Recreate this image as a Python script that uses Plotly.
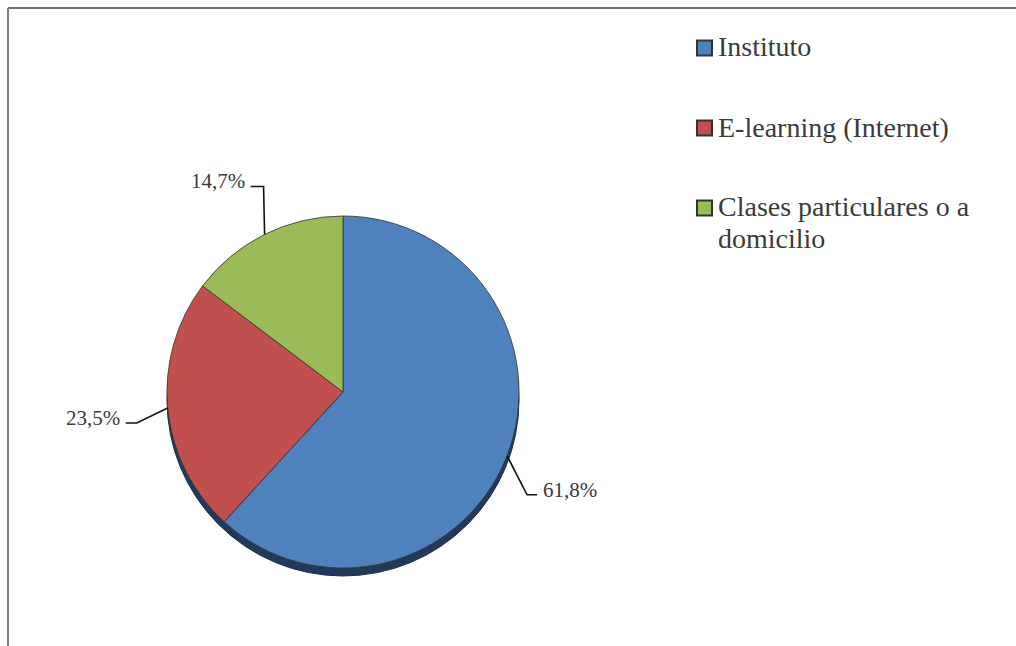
import math
import textwrap
import plotly.graph_objects as go

# ---- data ----
categories = ["Instituto", "E-learning (Internet)", "Clases particulares o a domicilio"]
shares = [61.8, 23.5, 14.7]
value_labels = ["61,8%", "23,5%", "14,7%"]
colors = ["#4F81BD", "#C0504D", "#9BBB59"]

# ---- canvas / layout helpers ----
W, H = 1016, 646
CX, CY, R = 343, 392, 176          # pie centre and radius, in pixels
FONT = "Liberation Serif, Times New Roman, serif"


def px(x):
    return x / W


def py(y):
    return 1 - y / H


fig = go.Figure()

fig.add_trace(go.Pie(
    labels=categories,
    values=shares,
    sort=False,
    direction="clockwise",
    rotation=0,
    marker=dict(colors=colors, line=dict(color="rgba(55,55,55,0.85)", width=1)),
    textinfo="none",
    hoverinfo="label+percent",
    showlegend=False,
    domain=dict(x=[px(CX - R), px(CX + R)], y=[py(CY + R), py(CY - R)]),
))

shapes = []
annotations = []

# frame: top and left rules
shapes.append(dict(type="line", xref="paper", yref="paper",
                   x0=px(8), y0=py(8), x1=1, y1=py(8),
                   line=dict(color="#3c3c3c", width=1.6)))
shapes.append(dict(type="line", xref="paper", yref="paper",
                   x0=px(8), y0=py(8), x1=px(8), y1=0,
                   line=dict(color="#808080", width=2)))

# darker rim under the pie for the raised look
RIM = 8
shapes.append(dict(type="circle", xref="paper", yref="paper", layer="below",
                   x0=px(CX - R), x1=px(CX + R),
                   y0=py(CY + R + RIM), y1=py(CY - R + RIM),
                   fillcolor="#22395a", line=dict(color="#1c2e48", width=1)))

# leader-line geometry per slice: elbow offset from the slice edge, tail direction
leader = [
    dict(dx=20, dy=39, tail=10),    # Instituto
    dict(dx=-31, dy=15, tail=-11),  # E-learning
    dict(dx=-1, dy=-48, tail=-13),  # Clases particulares
]

total = sum(shares)
start = 0.0
for share, text, geo in zip(shares, value_labels, leader):
    mid = start + share / total * 360 / 2
    start += share / total * 360
    a = math.radians(mid)
    ex, ey = CX + R * math.sin(a), CY - R * math.cos(a)
    bx, by = ex + geo["dx"], ey + geo["dy"]
    tx = bx + geo["tail"]
    shapes.append(dict(
        type="path", xref="paper", yref="paper",
        path=f"M {px(ex)},{py(ey)} L {px(bx)},{py(by)} L {px(tx)},{py(by)}",
        line=dict(color="#111111", width=1.6),
    ))
    right = geo["tail"] > 0
    annotations.append(dict(
        xref="paper", yref="paper",
        x=px(tx + (4 if right else -4)), y=py(by - 5),
        xanchor="left" if right else "right", yanchor="middle",
        text=text, showarrow=False,
        font=dict(family=FONT, size=21, color="#3a3a3a"),
    ))

# legend: colour squares with wrapped category names
LEG_X, LEG_Y0, LEG_STEP, SQ, LINE_H = 697, 48, 80, 15, 31
for i, (cat, col) in enumerate(zip(categories, colors)):
    cy = LEG_Y0 + i * LEG_STEP
    shapes.append(dict(
        type="rect", xref="paper", yref="paper",
        x0=px(LEG_X), x1=px(LEG_X + SQ), y0=py(cy + SQ / 2), y1=py(cy - SQ / 2),
        fillcolor=col, line=dict(color="#333333", width=2),
    ))
    for j, line in enumerate(textwrap.wrap(cat, 23)):
        annotations.append(dict(
            xref="paper", yref="paper",
            x=px(LEG_X + SQ + 4), y=py(cy - 1 + j * LINE_H),
            xanchor="left", yanchor="middle",
            text=line, showarrow=False,
            font=dict(family=FONT, size=28, color="#3a3a3a"),
        ))

fig.update_layout(
    width=W, height=H,
    margin=dict(l=0, r=0, t=0, b=0),
    paper_bgcolor="white",
    plot_bgcolor="white",
    shapes=shapes,
    annotations=annotations,
    showlegend=False,
)

fig.write_html("out.html")
